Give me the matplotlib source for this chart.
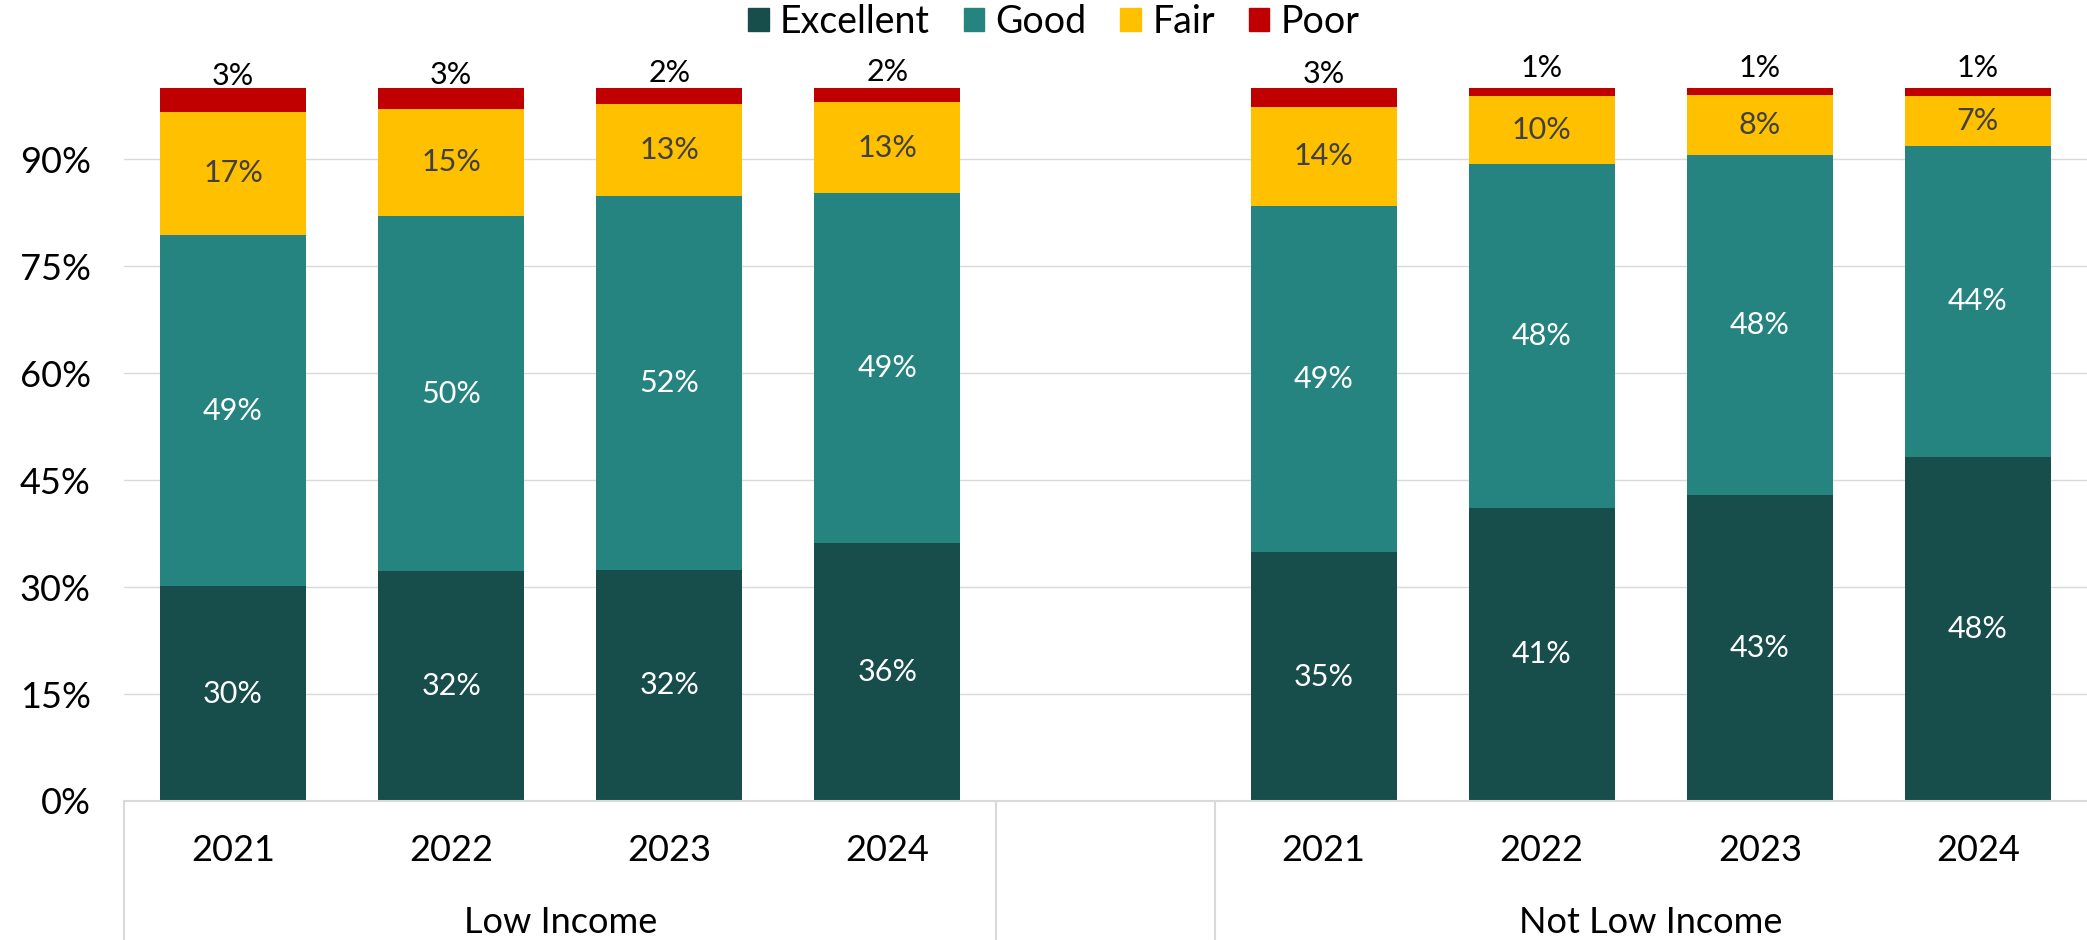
"""Stacked bars of self-rated condition by income group and year."""

import matplotlib
matplotlib.use("Agg")
import matplotlib.pyplot as plt
from matplotlib.patches import Patch
from matplotlib.ticker import PercentFormatter
from matplotlib.transforms import blended_transform_factory


GROUPS = ["Low Income", "Not Low Income"]
YEARS = ["2021", "2022", "2023", "2024"]
RATINGS = ["Excellent", "Good", "Fair", "Poor"]

# shares in percent, one list per group, years in order
EXCELLENT = [[30.1, 32.3, 32.4, 36.2], [34.9, 41.1, 42.9, 48.3]]
GOOD = [[49.3, 49.7, 52.4, 49.1], [48.6, 48.2, 47.7, 43.6]]
FAIR = [[17.3, 15.1, 12.9, 12.7], [13.9, 9.6, 8.4, 7.0]]
POOR = [[3.3, 2.9, 2.3, 2.0], [2.6, 1.1, 1.0, 1.1]]

COLORS = {"Excellent": "#174D4A", "Good": "#25847F", "Fair": "#FFC000", "Poor": "#C00000"}
LABEL_COLORS = {"Excellent": "white", "Good": "white", "Fair": "#404040", "Poor": "black"}
GRID_COLOR = "#D9D9D9"
FONT = "Lato"


def main():
    plt.rcParams["font.family"] = [FONT, "DejaVu Sans"]
    fig = plt.figure(figsize=(20.87, 9.40), dpi=100)
    ax = fig.add_axes([0.0594, 0.1479, 0.9406, 0.7585])

    series = {"Excellent": EXCELLENT, "Good": GOOD, "Fair": FAIR, "Poor": POOR}
    slot = len(YEARS) + 1  # one empty slot between the groups
    positions = []
    for g in range(len(GROUPS)):
        xs = [g * slot + i for i in range(len(YEARS))]
        positions.extend(xs)
        bottom = [0.0] * len(YEARS)
        for rating in RATINGS:
            vals = series[rating][g]
            ax.bar(xs, vals, bottom=bottom, width=0.67, color=COLORS[rating], zorder=2)
            for x, b, v in zip(xs, bottom, vals):
                label = f"{round(v)}%"
                if rating == "Poor":
                    ax.annotate(label, (x, b + v / 2), xytext=(0, 17), textcoords="offset points",
                                ha="center", va="center", fontsize=22, color=LABEL_COLORS[rating])
                else:
                    ax.text(x, b + v / 2, label, ha="center", va="center",
                            fontsize=22, color=LABEL_COLORS[rating])
            bottom = [b + v for b, v in zip(bottom, vals)]

    ax.set_xlim(-0.5, len(GROUPS) * slot - 1.5)
    ax.set_ylim(0, 100)
    ax.set_yticks(range(0, 91, 15))
    ax.yaxis.set_major_formatter(PercentFormatter(decimals=0))
    ax.grid(axis="y", color=GRID_COLOR, linewidth=1.0, zorder=0)
    ax.set_axisbelow(True)
    for side in ("top", "right", "left"):
        ax.spines[side].set_visible(False)
    ax.spines["bottom"].set_color(GRID_COLOR)
    ax.spines["bottom"].set_linewidth(1.5)
    ax.spines["bottom"].set_zorder(3)

    ax.set_xticks(positions)
    ax.set_xticklabels(YEARS * len(GROUPS))
    ax.tick_params(axis="x", length=0, pad=24, labelsize=26)
    ax.tick_params(axis="y", length=0, pad=24, labelsize=26)

    # group labels and separators under the axis
    trans = blended_transform_factory(ax.transData, ax.transAxes)
    for g, name in enumerate(GROUPS):
        centre = g * slot + (len(YEARS) - 1) / 2
        ax.text(centre, -0.17, name, transform=trans, ha="center", va="center", fontsize=26)
    line_trans = blended_transform_factory(ax.transData, fig.transFigure)
    for x in (-0.5, len(YEARS) - 0.5, len(YEARS) + 0.5):
        ax.plot([x, x], [0, 0.1479], transform=line_trans, color=GRID_COLOR,
                linewidth=1.5, clip_on=False)

    handles = [Patch(color=COLORS[r], label=r) for r in RATINGS]
    fig.legend(handles=handles, loc="center", bbox_to_anchor=(0.505, 0.977), ncol=4,
               frameon=False, fontsize=27, handlelength=0.55, handleheight=0.55,
               handletextpad=0.3, columnspacing=0.9)

    fig.savefig("out.png", dpi=100)
    plt.close(fig)


if __name__ == "__main__":
    main()
